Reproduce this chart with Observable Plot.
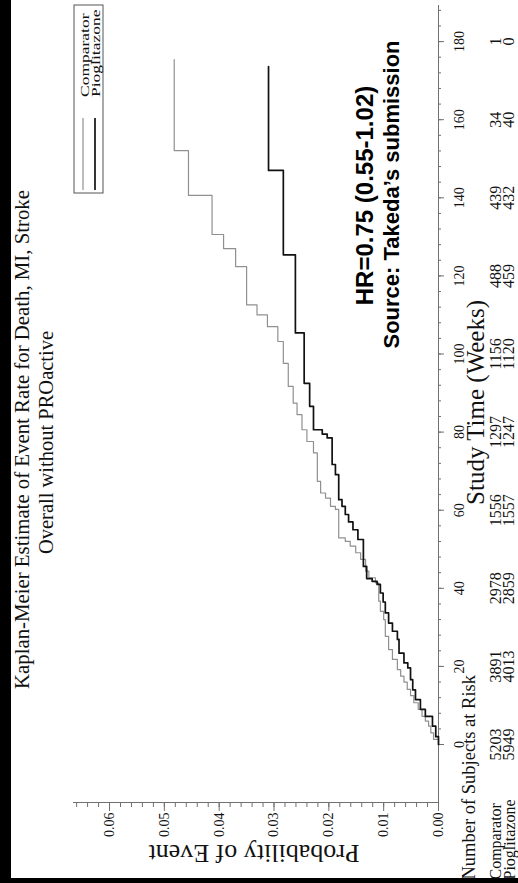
<!DOCTYPE html>
<html>
<head>
<meta charset="utf-8">
<script src="https://cdn.jsdelivr.net/npm/d3@7"></script>
<script src="https://cdn.jsdelivr.net/npm/@observablehq/plot@0.6"></script>
<style>
  html, body { margin: 0; padding: 0; background: #fff; overflow: hidden; }
  #wrap { position: absolute; left: 0; top: 0; width: 883px; height: 518px;
          transform-origin: 0 0; transform: translate(0, 883px) rotate(-90deg);
          background: #fff; overflow: hidden; }
  #wrap svg { position: absolute; left: 0; top: 0; }
</style>
</head>
<body>
<div id="wrap"></div>
<script>
// ---- data ----
const seriesNames = ["Comparator", "Pioglitazone"];

const compTimes = [0, 1.3, 3, 4.7, 6, 7.2, 9, 10.7, 12.5, 14.1, 16, 17.5, 19.2, 21.8, 24.3, 27.7, 32, 34.1, 36.7, 41.4, 42.7, 44.4, 47.4, 49.1, 50.8, 52.0, 52.9, 60.2, 61.0, 63.1, 64.4, 67.4, 74.7, 77.6, 80.6, 84.5, 87.4, 91.7, 97.6, 103.2, 107, 110, 112.6, 122.4, 127, 130.6, 140.6, 152.1, 175.4];
const compProb  = [0, 0.0009, 0.0014, 0.0018, 0.0024, 0.0030, 0.0037, 0.0045, 0.0051, 0.0057, 0.0063, 0.0069, 0.0075, 0.0084, 0.0091, 0.0097, 0.0100, 0.0106, 0.0109, 0.0115, 0.0127, 0.0133, 0.0142, 0.0151, 0.0161, 0.0170, 0.0182, 0.0188, 0.0197, 0.0206, 0.0215, 0.0221, 0.0228, 0.0240, 0.0249, 0.0258, 0.0265, 0.0274, 0.0283, 0.0293, 0.0312, 0.0331, 0.0350, 0.0370, 0.0392, 0.0413, 0.0456, 0.0482, 0.0482];

const pioTimes = [0, 2, 4.7, 7.2, 9.0, 11.5, 14, 16.6, 19.6, 20.9, 23.4, 26.9, 29, 31.1, 33.7, 36.5, 38.8, 41, 41.8, 42.5, 45.6, 52.5, 55, 57, 58.9, 61, 62.7, 69.1, 71.7, 78.5, 79.5, 80.6, 86.6, 92.5, 105.4, 125.4, 147, 173.6];
const pioProb  = [0, 0.0005, 0.0011, 0.0024, 0.0033, 0.0042, 0.0047, 0.0051, 0.0056, 0.0063, 0.0072, 0.0075, 0.0084, 0.0091, 0.0097, 0.0101, 0.0106, 0.0112, 0.0121, 0.0131, 0.0137, 0.0147, 0.0156, 0.0164, 0.0170, 0.0176, 0.0182, 0.0188, 0.0194, 0.0203, 0.0212, 0.0228, 0.0235, 0.0245, 0.0261, 0.0283, 0.0310, 0.0310];

const riskTimes = [0, 20, 40, 60, 80, 100, 120, 140, 160, 180];
const compRisk  = [5203, 3891, 2978, 1556, 1297, 1156, 488, 439, 34, 1];
const pioRisk   = [5949, 4013, 2859, 1557, 1247, 1120, 459, 432, 40, 0];

const xTicks = [0, 20, 40, 60, 80, 100, 120, 140, 160, 180];
const yTicks = [0, 0.01, 0.02, 0.03, 0.04, 0.05, 0.06];

const titleText = "Kaplan-Meier Estimate of Event Rate for Death, MI, Stroke";
const subtitleText = "Overall without PROactive";
const xLabel = "Study Time (Weeks)";
const yLabel = "Probability of Event";
const riskLabel = "Number of Subjects at Risk";
const hrText = "HR=0.75 (0.55-1.02)";
const sourceText = "Source: Takeda\u2019s submission";

(function () {
  const xMinor = d3.range(0, 189, 4);
  const yMinor = d3.range(0, 0.0661, 0.002);

  const compData = compTimes.map((t, i) => ({t, p: compProb[i], s: seriesNames[0]}));
  const pioData  = pioTimes.map((t, i) => ({t, p: pioProb[i], s: seriesNames[1]}));

  const xDomain = [-14.85, 189.5];
  const serif = "'Liberation Serif', 'Times New Roman', serif";
  const sans = "'Liberation Sans', Arial, sans-serif";
  const axisGray = "#707070";

  const chart = Plot.plot({
    width: 883, height: 518,
    marginLeft: 80, marginRight: 5, marginTop: 73, marginBottom: 80,
    style: {fontFamily: serif, fontSize: "14px", background: "#fff", color: "#111", overflow: "visible"},
    x: {domain: xDomain, label: null},
    y: {domain: [0, 0.06657], label: null},
    marks: [
      Plot.ruleY([0], {stroke: axisGray, strokeWidth: 1}),
      Plot.ruleX([xDomain[0]], {stroke: axisGray, strokeWidth: 1}),
      Plot.axisX({ticks: xMinor, tickSize: 3, fill: "none", stroke: axisGray, label: null}),
      Plot.axisX({ticks: xTicks, tickSize: 6, tickPadding: 10, fontSize: 14, stroke: axisGray, fill: "#111", label: null, tickFormat: d3.format("d")}),
      Plot.axisY({ticks: yMinor, tickSize: 4, fill: "none", stroke: axisGray, label: null}),
      Plot.axisY({ticks: yTicks, tickSize: 8, tickPadding: 2, fontSize: 14, stroke: axisGray, fill: "#111", label: null, tickFormat: d3.format(".2f")}),
      Plot.axisX({ticks: riskTimes, tickSize: 0, tickPadding: 51, fontSize: 16, fill: "#111", label: null,
                  tickFormat: d => String(compRisk[riskTimes.indexOf(d)])}),
      Plot.axisX({ticks: riskTimes, tickSize: 0, tickPadding: 64, fontSize: 16, fill: "#111", label: null,
                  tickFormat: d => String(pioRisk[riskTimes.indexOf(d)])}),
      Plot.line(compData, {x: "t", y: "p", curve: "step-after", stroke: "#909090", strokeWidth: 1.2}),
      Plot.line(pioData, {x: "t", y: "p", curve: "step-after", stroke: "#111", strokeWidth: 1.7}),
      Plot.text([titleText], {frameAnchor: "top", dx: -36, dy: -45, textAnchor: "middle", lineAnchor: "bottom", fontSize: 20.8, fill: "#111"}),
      Plot.text([subtitleText], {frameAnchor: "top", dx: -39, dy: -20.5, textAnchor: "middle", lineAnchor: "bottom", fontSize: 20.5, fill: "#111"}),
      Plot.text([xLabel], {frameAnchor: "bottom", dx: 1, dy: 45, textAnchor: "middle", lineAnchor: "bottom", fontSize: 25, fill: "#111"}),
      Plot.text([yLabel], {frameAnchor: "left", dx: -42, dy: -2, rotate: -90, textAnchor: "middle", lineAnchor: "bottom", fontSize: 26, fill: "#111"}),
      Plot.text([riskLabel], {frameAnchor: "bottom-left", dx: -77, dy: 36, textAnchor: "start", lineAnchor: "bottom", fontSize: 18.5, fill: "#111"}),
      Plot.text([seriesNames[0]], {frameAnchor: "bottom-left", dx: -77, dy: 62, textAnchor: "start", lineAnchor: "bottom", fontSize: 16, fill: "#111"}),
      Plot.text([seriesNames[1]], {frameAnchor: "bottom-left", dx: -77, dy: 76, textAnchor: "start", lineAnchor: "bottom", fontSize: 16, fill: "#111"}),
      Plot.text([hrText], {frameAnchor: "top", dx: 208, dy: 299, textAnchor: "middle", lineAnchor: "bottom", fontSize: 24, fontWeight: "bold", fontFamily: sans, fill: "#000"}),
      Plot.text([sourceText], {frameAnchor: "top", dx: 209, dy: 325, textAnchor: "middle", lineAnchor: "bottom", fontSize: 22, fontWeight: "bold", fontFamily: sans, fill: "#000"})
    ]
  });

  const svg = d3.select(chart);
  const lg = svg.append("g").attr("text-anchor", "start");
  lg.append("rect").attr("x", 690).attr("y", 74).attr("width", 188).attr("height", 29)
    .attr("fill", "#fff").attr("stroke", "#555").attr("stroke-width", 1);
  lg.append("line").attr("x1", 693).attr("x2", 765).attr("y1", 83).attr("y2", 83)
    .attr("stroke", "#909090").attr("stroke-width", 1.2);
  lg.append("line").attr("x1", 693).attr("x2", 765).attr("y1", 95).attr("y2", 95)
    .attr("stroke", "#111").attr("stroke-width", 1.7);
  [[seriesNames[0], 89], [seriesNames[1], 99.5]].forEach(([txt, yy]) => {
    lg.append("text").attr("transform", `translate(786,${yy}) scale(1,0.68)`)
      .attr("text-anchor", "start")
      .attr("font-family", serif).attr("font-size", 17.5).attr("fill", "#111").text(txt);
  });
  // scan borders (black edges of the scanned page)
  svg.append("rect").attr("x", 0).attr("y", 0).attr("width", 883).attr("height", 11).attr("fill", "#000");
  svg.append("rect").attr("x", 0).attr("y", 0).attr("width", 5).attr("height", 518).attr("fill", "#000");

  document.getElementById("wrap").appendChild(chart);
})();
</script>
</body>
</html>
